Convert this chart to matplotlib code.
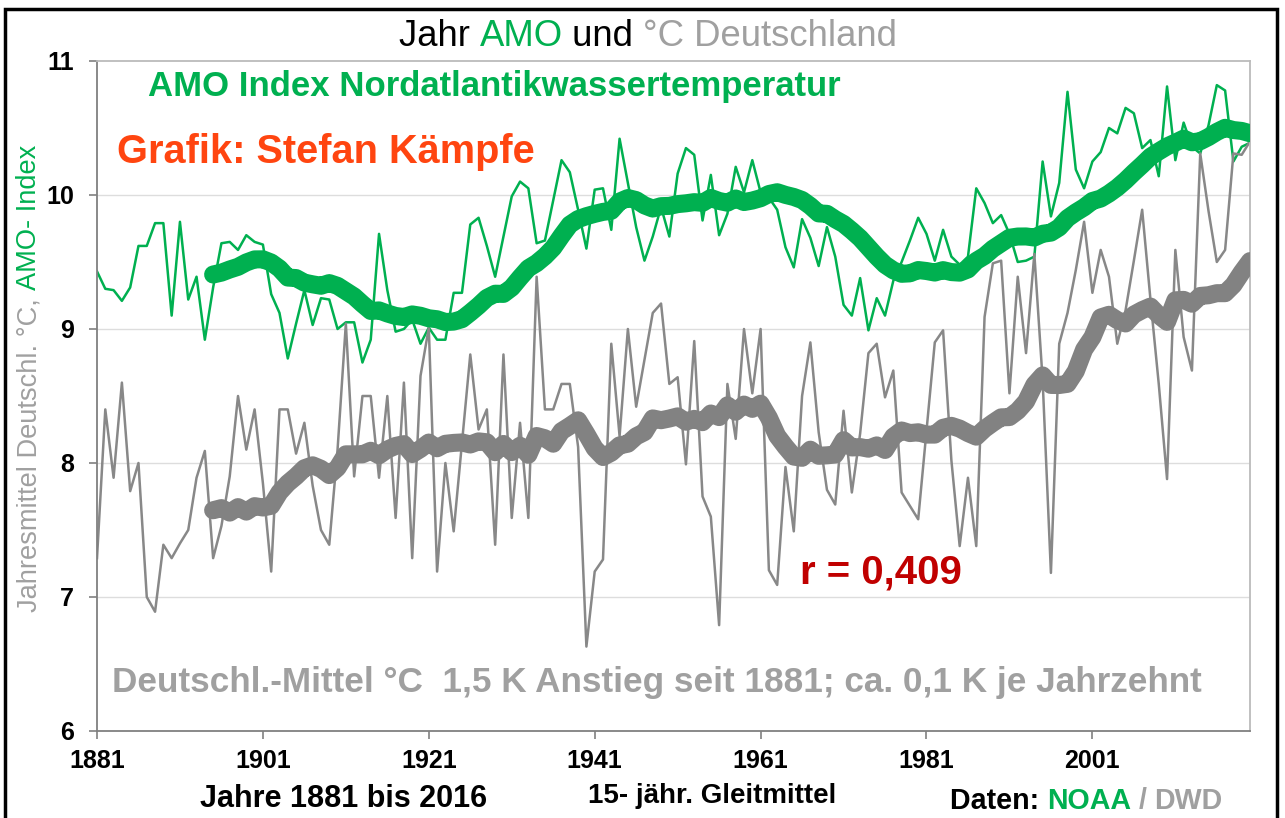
import matplotlib
matplotlib.use('Agg')
import matplotlib.pyplot as plt
import pandas as pd
from matplotlib.patches import Rectangle

plt.rcParams['font.family'] = ['Liberation Sans', 'DejaVu Sans']

# ---------------- data ----------------
years = list(range(1881, 2021))

amo = [9.43, 9.30, 9.29, 9.21, 9.31, 9.62, 9.62, 9.79, 9.79, 9.10,
       9.80, 9.22, 9.39, 8.92, 9.31, 9.64, 9.65, 9.59, 9.70, 9.65,
       9.63, 9.26, 9.12, 8.78, 9.04, 9.29, 9.03, 9.23, 9.22, 9.00,
       9.05, 9.05, 8.75, 8.92, 9.71, 9.29, 8.98, 9.00, 9.07, 8.89,
       9.01, 8.92, 8.92, 9.27, 9.27, 9.78, 9.83, 9.62, 9.39, 9.69,
       9.99, 10.10, 10.05, 9.64, 9.66, 9.96, 10.26, 10.17, 9.89, 9.60,
       10.04, 10.05, 9.74, 10.42, 10.09, 9.76, 9.51, 9.69, 9.91, 9.69,
       10.16, 10.35, 10.30, 9.81, 10.15, 9.70, 9.86, 10.21, 10.02, 10.26,
       10.02, 9.98, 9.89, 9.61, 9.46, 9.82, 9.68, 9.47, 9.76, 9.54,
       9.18, 9.10, 9.38, 8.99, 9.23, 9.10, 9.36, 9.50, 9.66, 9.83,
       9.71, 9.51, 9.74, 9.54, 9.48, 9.54, 10.05, 9.94, 9.79, 9.85,
       9.71, 9.50, 9.51, 9.54, 10.25, 9.84, 10.09, 10.77, 10.19, 10.05,
       10.25, 10.32, 10.50, 10.46, 10.65, 10.61, 10.35, 10.41, 10.14, 10.81,
       10.26, 10.54, 10.36, 10.31, 10.52, 10.82, 10.78, 10.25, 10.36, 10.39]

de = [7.29, 8.40, 7.89, 8.60, 7.79, 8.00, 7.00, 6.89, 7.39, 7.29,
      7.40, 7.50, 7.89, 8.09, 7.29, 7.53, 7.90, 8.50, 8.10, 8.40,
      7.85, 7.19, 8.40, 8.40, 8.07, 8.30, 7.83, 7.50, 7.39, 8.10,
      9.04, 7.90, 8.50, 8.50, 7.89, 8.50, 7.59, 8.60, 7.29, 8.65,
      9.01, 7.19, 8.00, 7.49, 8.15, 8.81, 8.25, 8.40, 7.39, 8.81,
      7.59, 8.30, 7.59, 9.39, 8.40, 8.40, 8.59, 8.59, 8.12, 6.63,
      7.19, 7.28, 8.89, 8.20, 9.00, 8.42, 8.77, 9.12, 9.19, 8.59,
      8.64, 7.99, 8.91, 7.75, 7.60, 6.79, 8.59, 8.18, 9.00, 8.52,
      9.00, 7.20, 7.09, 7.97, 7.49, 8.50, 8.90, 8.23, 7.80, 7.69,
      8.39, 7.78, 8.22, 8.82, 8.89, 8.49, 8.69, 7.78, 7.68, 7.58,
      8.24, 8.90, 8.99, 8.02, 7.38, 7.89, 7.38, 9.09, 9.49, 9.51,
      8.52, 9.39, 8.82, 9.56, 8.62, 7.18, 8.89, 9.12, 9.44, 9.80,
      9.27, 9.59, 9.39, 8.89, 9.14, 9.51, 9.89, 9.22, 8.59, 7.88,
      9.59, 8.94, 8.69, 10.31, 9.88, 9.50, 9.59, 10.31, 10.30, 10.40]

x_ticks = [1881, 1901, 1921, 1941, 1961, 1981, 2001]
y_ticks = [6, 7, 8, 9, 10, 11]
window = 15

amo_ma = pd.Series(amo, index=years).rolling(window).mean()
de_ma = pd.Series(de, index=years).rolling(window).mean()

# ---------------- style ----------------
GREEN = '#00B050'
GRAY_LINE = '#888888'
GRAY_THICK = '#828282'
GRAY_TEXT = '#A0A0A0'
ORANGE = '#FF4510'
DARKRED = '#C00000'

W, H = 1285, 818
fig = plt.figure(figsize=(W / 100, H / 100), dpi=100)
fig.patch.set_facecolor('white')

L, R, T, B = 97, 1250, 61, 731
ax = fig.add_axes([L / W, 1 - B / H, (R - L) / W, (B - T) / H])

ax.plot(years, amo, color=GREEN, lw=1.8, zorder=2)
ax.plot(years, de, color=GRAY_LINE, lw=1.8, zorder=2)
ax.plot(amo_ma.index, amo_ma.values, color=GREEN, lw=13,
        solid_capstyle='round', solid_joinstyle='round', zorder=3)
ax.plot(de_ma.index, de_ma.values, color=GRAY_THICK, lw=13,
        solid_capstyle='round', solid_joinstyle='round', zorder=3)

ax.set_xlim(1881, 2020)
ax.set_ylim(6, 11)
ax.set_xticks(x_ticks)
ax.set_yticks(y_ticks)
ax.set_xticklabels([str(v) for v in x_ticks], fontsize=18, fontweight='bold')
ax.set_yticklabels([str(v) for v in y_ticks], fontsize=18, fontweight='bold')
ax.tick_params(axis='both', direction='out', length=5.8, width=1.2, color='#808080')
ax.tick_params(axis='x', pad=7)
ax.tick_params(axis='y', pad=10.5)
for y in y_ticks[1:-1]:
    ax.axhline(y, color='#DDDDDD', lw=1, zorder=0)
for s in ['left', 'bottom']:
    ax.spines[s].set_color('#808080')
    ax.spines[s].set_linewidth(1.3)
for s in ['top', 'right']:
    ax.spines[s].set_color('#BBBBBB')
    ax.spines[s].set_linewidth(1.3)

# ---------------- text helpers ----------------
fig.canvas.draw()
renderer = fig.canvas.get_renderer()


def text_width(s, size, weight):
    t = fig.text(0, 0, s + '|', fontsize=size, fontweight=weight)
    w1 = t.get_window_extent(renderer).width
    t.remove()
    t = fig.text(0, 0, '|', fontsize=size, fontweight=weight)
    w2 = t.get_window_extent(renderer).width
    t.remove()
    return w1 - w2


def multi_text(x_px, y_px, parts, size, weight, ha='left', rotation=0):
    full = ''.join(p for p, _ in parts)
    total = text_width(full, size, weight)
    start = x_px if rotation == 0 else y_px
    if ha == 'center':
        start = start - total / 2
    prefix = ''
    for s, c in parts:
        off = text_width(prefix, size, weight) if prefix else 0.0
        if rotation == 0:
            fig.text((start + off) / W, 1 - y_px / H, s, fontsize=size,
                     fontweight=weight, color=c, ha='left', va='baseline')
        else:
            fig.text(x_px / W, 1 - (start - off) / H, s, fontsize=size,
                     fontweight=weight, color=c, ha='left', va='center',
                     rotation=90, rotation_mode='anchor')
        prefix += s


# title
multi_text(648, 46, [('Jahr ', 'black'), ('AMO', GREEN), (' und ', 'black'),
                     ('°C Deutschland', GRAY_TEXT)], 26.3, 'normal', ha='center')

# y label (rotated, reads bottom to top)
multi_text(29, 612, [('Jahresmittel Deutschl. °C, ', GRAY_TEXT),
                     ('AMO- Index', GREEN)], 19.6, 'normal', rotation=90)

fig.text(148 / W, 1 - 96 / H, 'AMO Index Nordatlantikwassertemperatur',
         fontsize=25, fontweight='bold', color=GREEN, va='baseline')
fig.text(117 / W, 1 - 163 / H, 'Grafik: Stefan Kämpfe',
         fontsize=28.6, fontweight='bold', color=ORANGE, va='baseline')
fig.text(800 / W, 1 - 584 / H, 'r = 0,409',
         fontsize=29, fontweight='bold', color=DARKRED, va='baseline')
fig.text(112 / W, 1 - 692 / H,
         'Deutschl.-Mittel °C  1,5 K Anstieg seit 1881; ca. 0,1 K je Jahrzehnt',
         fontsize=25.3, fontweight='bold', color=GRAY_TEXT, va='baseline')
fig.text(200 / W, 1 - 807 / H, 'Jahre 1881 bis 2016',
         fontsize=22, fontweight='bold', color='black', va='baseline')
fig.text(588 / W, 1 - 803 / H, '15- jähr. Gleitmittel',
         fontsize=20, fontweight='bold', color='black', va='baseline')
multi_text(950, 809, [('Daten: ', 'black'), ('NOAA', GREEN), (' / ', GRAY_TEXT),
                      ('DWD', GRAY_TEXT)], 20.6, 'bold')

# outer frame
fig.patches.append(Rectangle((5 / W, -0.05), (1277 - 5) / W, 1.05 - 9 / H,
                             transform=fig.transFigure, fill=False,
                             edgecolor='black', lw=2.5))

fig.savefig('out.png', dpi=100, facecolor='white')
